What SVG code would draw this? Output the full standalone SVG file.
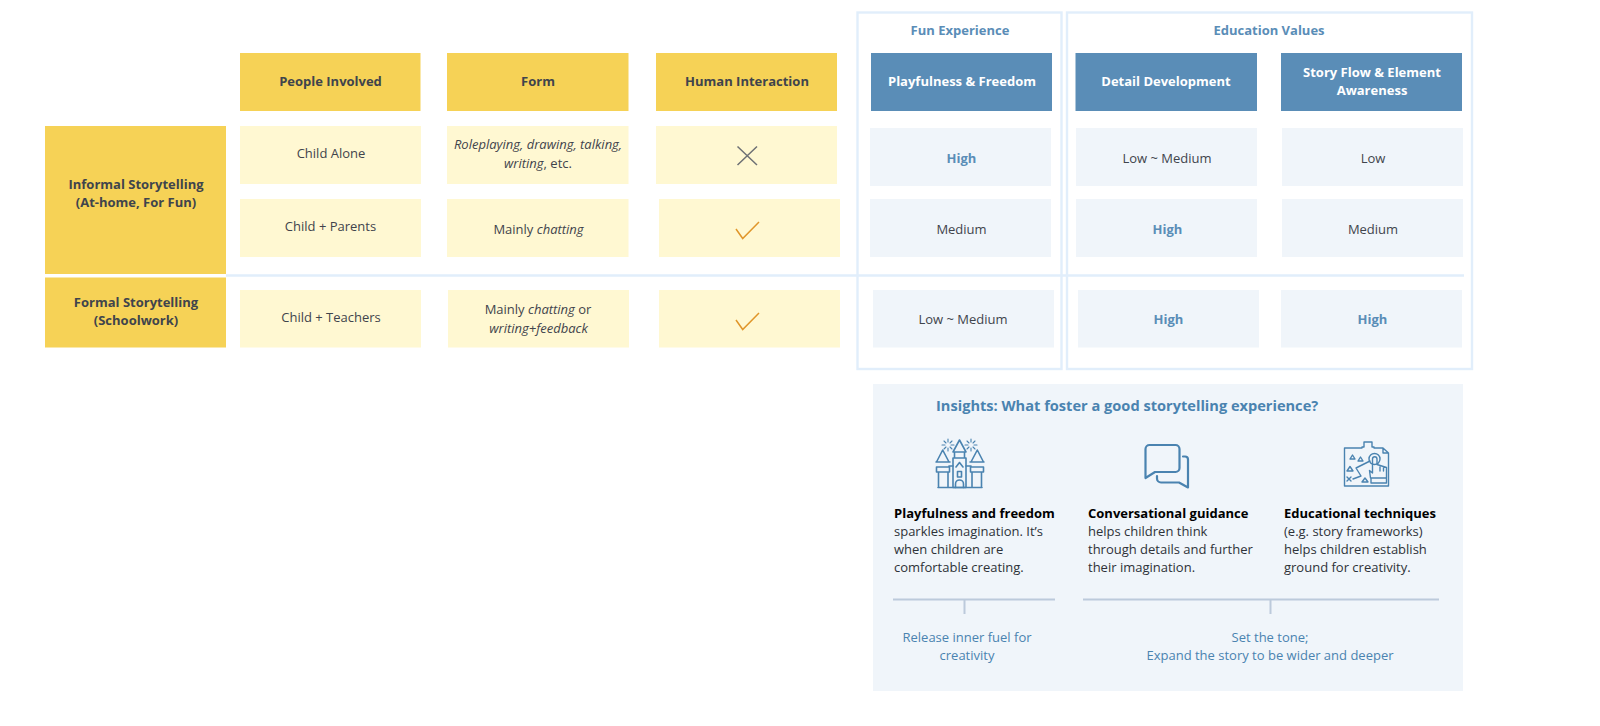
<svg xmlns="http://www.w3.org/2000/svg" width="1600" height="726" viewBox="0 0 1600 726">
<style>
text{font-family:"Open Sans","Noto Sans","DejaVu Sans",sans-serif;font-size:13px;fill:#3f444c;text-anchor:middle}
.b{font-weight:700;font-size:13px}
.i{font-style:italic}
.hy{fill:#f6d256}
.cy{fill:#fff8d2}
.hb{fill:#5a8db7}
.cb{fill:#f0f5fa}
.w{fill:#fff;font-weight:700;font-size:13px}
.bl{fill:#5a8db7;font-weight:700;font-size:13px}
.frame{fill:none;stroke:#e1eefb;stroke-width:2.400}
.l{text-anchor:start;fill:#2e3238}
.k{fill:#000;font-weight:700;font-size:13px}
.n{fill:#4a83b0}
.ic{fill:none;stroke:#4a83b0;stroke-width:1.600;stroke-linejoin:round;stroke-linecap:round}
.ic2{fill:none;stroke:#4a83b0;stroke-width:1.100;stroke-linecap:round}
.th{stroke-width:2.200}
.m{stroke-width:1.400}
.br{fill:none;stroke:#bccadb;stroke-width:2}
</style>
<rect width="1600" height="726" fill="#fff"/>

<g id="frames">
<rect class="frame" x="857.500" y="12.500" width="204" height="356.500"/>
<rect class="frame" x="1067" y="12.500" width="405" height="356.500"/>
<line x1="226" y1="275.500" x2="1464" y2="275.500" stroke="#e1eefb" stroke-width="2.400"/>
<text class="bl" x="960" y="34.500">Fun Experience</text>
<text class="bl" x="1269" y="34.500">Education Values</text>
</g>

<g id="head-people"><rect class="hy" x="240" y="53" width="180.500" height="58"/><text class="b" x="330.500" y="85.500">People Involved</text></g>
<g id="head-form"><rect class="hy" x="447" y="53" width="181.500" height="58"/><text class="b" x="538" y="85.500">Form</text></g>
<g id="head-interaction"><rect class="hy" x="656" y="53" width="181" height="58"/><text class="b" x="747" y="85.500">Human Interaction</text></g>
<g id="head-playfulness"><rect class="hb" x="871" y="53" width="181" height="58"/><text class="w" x="962" y="85.500">Playfulness &amp; Freedom</text></g>
<g id="head-detail"><rect class="hb" x="1075.500" y="53" width="181.500" height="58"/><text class="w" x="1166" y="85.500">Detail Development</text></g>
<g id="head-story"><rect class="hb" x="1281" y="53" width="181" height="58"/><text class="w" x="1372" y="77">Story Flow &amp; Element</text><text class="w" x="1372" y="95">Awareness</text></g>

<g id="row-informal"><rect class="hy" x="45" y="126" width="181" height="148"/><text class="b" x="136" y="189">Informal Storytelling</text><text class="b" x="136" y="207">(At-home, For Fun)</text></g>
<g id="row-formal"><rect class="hy" x="45" y="277.500" width="181" height="70"/><text class="b" x="136" y="306.500">Formal Storytelling</text><text class="b" x="136" y="324.500">(Schoolwork)</text></g>

<g id="c-1-1"><rect class="cy" x="240" y="126" width="181" height="58"/><text x="331" y="158">Child Alone</text></g>
<g id="c-1-2"><rect class="cy" x="447" y="126" width="181.500" height="58"/><text class="i" x="538" y="149">Roleplaying, drawing, talking,</text><text x="538" y="168"><tspan class="i">writing</tspan>, etc.</text></g>
<g id="c-1-3"><rect class="cy" x="656" y="126" width="181" height="58"/><path d="M737.500 146.500L757 165M757 146.500L737.500 165" fill="none" stroke="#6d7074" stroke-width="1.500"/></g>
<g id="c-2-1"><rect class="cy" x="240" y="199" width="181" height="58"/><text x="330.500" y="231">Child + Parents</text></g>
<g id="c-2-2"><rect class="cy" x="447" y="199" width="181.500" height="58"/><text x="538.500" y="234">Mainly <tspan class="i">chatting</tspan></text></g>
<g id="c-2-3"><rect class="cy" x="659" y="199" width="181" height="58"/><path d="M736 229L742.700 238.500L759 222" fill="none" stroke="#e0962a" stroke-width="1.500"/></g>
<g id="c-3-1"><rect class="cy" x="240" y="290" width="181" height="57.500"/><text x="331" y="322">Child + Teachers</text></g>
<g id="c-3-2"><rect class="cy" x="448" y="290" width="181" height="57.500"/><text x="538" y="314">Mainly <tspan class="i">chatting</tspan> or</text><text class="i" x="538.500" y="333">writing+feedback</text></g>
<g id="c-3-3"><rect class="cy" x="659" y="290" width="181" height="57.500"/><path d="M736 320L742.700 329.500L759 313" fill="none" stroke="#e0962a" stroke-width="1.500"/></g>

<g id="v-1-1"><rect class="cb" x="870" y="128" width="181" height="58"/><text class="bl" x="961.500" y="162.500">High</text></g>
<g id="v-1-2"><rect class="cb" x="1076" y="128" width="181" height="58"/><text x="1167" y="162.500">Low ~ Medium</text></g>
<g id="v-1-3"><rect class="cb" x="1282" y="128" width="181" height="58"/><text x="1373" y="162.500">Low</text></g>
<g id="v-2-1"><rect class="cb" x="870" y="199" width="181" height="58"/><text x="961.500" y="234">Medium</text></g>
<g id="v-2-2"><rect class="cb" x="1076" y="199" width="181" height="58"/><text class="bl" x="1167.500" y="234">High</text></g>
<g id="v-2-3"><rect class="cb" x="1282" y="199" width="181" height="58"/><text x="1373" y="234">Medium</text></g>
<g id="v-3-1"><rect class="cb" x="873" y="290" width="181" height="57.500"/><text x="963" y="324">Low ~ Medium</text></g>
<g id="v-3-2"><rect class="cb" x="1078" y="290" width="181" height="57.500"/><text class="bl" x="1168.500" y="324">High</text></g>
<g id="v-3-3"><rect class="cb" x="1281" y="290" width="181" height="57.500"/><text class="bl" x="1372.500" y="324">High</text></g>

<g id="insights">
<rect class="cb" x="873" y="384" width="590" height="307"/>
<text x="936" y="411" class="n" style="text-anchor:start;font-weight:700;font-size:14.600px">Insights: What foster a good storytelling experience?</text>
</g>

<g id="insight-playfulness">
<g id="castle">
<path class="ic" d="M938 487.500H982M938.500 487.500V472M948 487.500V472M972 487.500V472M981.500 487.500V472M936.500 467H949.500V472H936.500ZM970.500 467H983.500V472H970.500ZM936 462H950M970 462H984M936.500 462L942.700 450L949 462M971 462L977.300 450L983.500 462M949 466H953M966 466H971"/>
<path class="ic" d="M953 452H966L959.500 440ZM953 458H966V487.500H953ZM954.500 452V458M964.500 452V458"/>
<path class="ic" d="M955.500 487.500V484A4 4 0 0 1 963.500 484V487.500M957.500 471.500H961.500V477H957.500ZM956 467L959.500 462.500L963 467"/>
<path class="ic2" d="M948 439V442M948 448V451M942 445H945M951 445H954M944 441L946 443M950 447L952 449M952 441L950 443M946 447L944 449M971 439V442M971 448V451M965 445H968M974 445H977M967 441L969 443M973 447L975 449M975 441L973 443M969 447L967 449"/>
</g>
<text class="l k" x="894" y="518">Playfulness and freedom</text>
<text class="l" x="894" y="536">sparkles imagination. It’s</text>
<text class="l" x="894" y="553.500">when children are</text>
<text class="l" x="894" y="571.500">comfortable creating.</text>
</g>

<g id="insight-conversation">
<g id="chat">
<path class="ic th" d="M1149.500 445H1175.500A4 4 0 0 1 1179.500 449V468A4 4 0 0 1 1175.500 472H1155L1145.500 478V449A4 4 0 0 1 1149.500 445Z"/>
<path class="ic th" d="M1183 456.500H1185A3 3 0 0 1 1188 459.500V487.500L1179 482.500H1161A4 4 0 0 1 1157 478.500V476"/>
</g>
<text class="l k" x="1088" y="518">Conversational guidance</text>
<text class="l" x="1088" y="536">helps children think</text>
<text class="l" x="1088" y="553.500">through details and further</text>
<text class="l" x="1088" y="571.500">their imagination.</text>
</g>

<g id="insight-education">
<g id="map">
<path class="ic m" d="M1344.500 448H1362V447H1364V442H1372V447H1374V448H1383L1388.500 453V486H1344.500ZM1383 448V453H1388.500"/>
<path class="ic m" d="M1350 459L1352.500 455L1355 459ZM1358 461L1360.500 457L1363 461ZM1347 471L1350 466.500L1353 471ZM1362 482L1365 478L1368 482ZM1347 477L1351 481M1351 477L1347 481M1353 479L1361 476L1356 468L1370 461"/>
<circle class="ic m" cx="1374.500" cy="459" r="5.500"/>
<path class="ic m" d="M1372.500 459V473L1369.500 470.500L1370.500 478H1386.500V467.500L1377 464.500V459A2.200 2.200 0 0 0 1372.500 459ZM1380 465.500V471M1383.500 466.500V471M1371 478.500V483H1386.500V478.500"/>
</g>
<text class="l k" x="1284" y="518">Educational techniques</text>
<text class="l" x="1284" y="536">(e.g. story frameworks)</text>
<text class="l" x="1284" y="553.500">helps children establish</text>
<text class="l" x="1284" y="571.500">ground for creativity.</text>
</g>

<g id="connectors">
<path class="br" d="M893 599.500H1055M964.500 599.500V614"/>
<path class="br" d="M1083 599.500H1439M1270.500 599.500V614"/>
</g>

<g id="outcome-fuel"><text class="n" x="967" y="641.500">Release inner fuel for</text><text class="n" x="967" y="660">creativity</text></g>
<g id="outcome-tone"><text class="n" x="1270" y="641.500">Set the tone;</text><text class="n" x="1270" y="660">Expand the story to be wider and deeper</text></g>
</svg>
